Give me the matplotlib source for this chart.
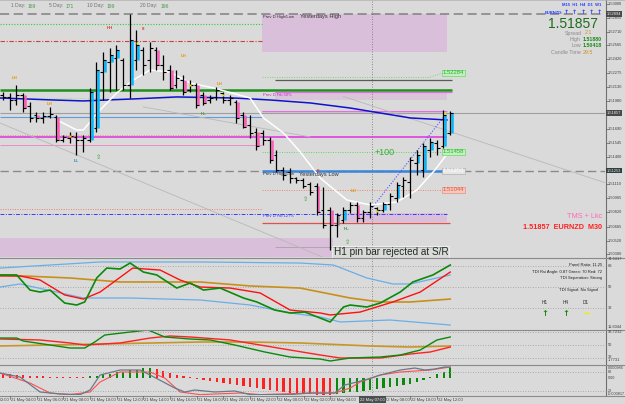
import matplotlib
matplotlib.use("Agg")
import matplotlib.pyplot as plt
from matplotlib.lines import Line2D
from matplotlib.patches import Rectangle
from matplotlib.transforms import blended_transform_factory as blend

plt.rcParams['font.family'] = ['Liberation Sans', 'DejaVu Sans']

# ---------------- data ----------------
bar_idx = list(range(-1, 67))   # M30 bars, 0 = 21 May 04:00
opens = [1.52046, 1.52025, 1.51993, 1.52046, 1.51930, 1.51836, 1.51805, 1.51826, 1.51815, 1.51574,
         1.51595, 1.51606, 1.51574, 1.51574, 1.51700, 1.52286, 1.52391, 1.52433, 1.52412, 1.52150,
         1.52412, 1.52517, 1.52412, 1.52517, 1.52360, 1.52307, 1.52150, 1.52203, 1.52098, 1.52150,
         1.52046, 1.51993, 1.52025, 1.52066, 1.51993, 1.51972, 1.51836, 1.51731, 1.51658, 1.51648,
         1.51574, 1.51417, 1.51260, 1.51239, 1.51176, 1.51156, 1.51114, 1.51093, 1.50841, 1.50841,
         1.50684, 1.50737, 1.50841, 1.50894, 1.50758, 1.50820, 1.50862, 1.50841, 1.50904, 1.50967,
         1.51093, 1.51135, 1.51334, 1.51260, 1.51470, 1.51543, 1.51512, 1.51648]
highs = [1.52077, 1.52066, 1.52150, 1.52066, 1.51972, 1.51867, 1.51867, 1.51920, 1.51836, 1.51627,
         1.51658, 1.51658, 1.51627, 1.52119, 1.52391, 1.52496, 1.52538, 1.52569, 1.52433, 1.52894,
         1.52726, 1.52548, 1.52600, 1.52548, 1.52464, 1.52360, 1.52307, 1.52255, 1.52203, 1.52171,
         1.52077, 1.52046, 1.52129, 1.52077, 1.52046, 1.51993, 1.51867, 1.51836, 1.51700, 1.51679,
         1.51606, 1.51470, 1.51292, 1.51281, 1.51187, 1.51176, 1.51135, 1.51124, 1.51082, 1.50873,
         1.50810, 1.50873, 1.50925, 1.50925, 1.50841, 1.50925, 1.50873, 1.50925, 1.51019, 1.51135,
         1.51187, 1.51396, 1.51470, 1.51543, 1.51595, 1.51574, 1.51888, 1.51880]
lows = [1.51993, 1.51888, 1.51941, 1.51867, 1.51763, 1.51763, 1.51752, 1.51805, 1.51553, 1.51553,
        1.51543, 1.51417, 1.51449, 1.51553, 1.51658, 1.51993, 1.52077, 1.52098, 1.52098, 1.52014,
        1.52307, 1.52255, 1.52286, 1.52307, 1.52203, 1.52098, 1.52119, 1.52046, 1.52077, 1.51909,
        1.51941, 1.51962, 1.51993, 1.51962, 1.51941, 1.51752, 1.51700, 1.51595, 1.51470, 1.51522,
        1.51334, 1.51239, 1.51156, 1.51124, 1.51124, 1.51072, 1.50999, 1.50789, 1.50653, 1.50418,
        1.50559, 1.50705, 1.50810, 1.50716, 1.50716, 1.50758, 1.50789, 1.50820, 1.50841, 1.50925,
        1.50978, 1.50967, 1.51208, 1.51187, 1.51396, 1.51417, 1.51491, 1.51627]
closes = [1.52025, 1.51993, 1.52046, 1.51909, 1.51805, 1.51805, 1.51826, 1.51847, 1.51574, 1.51606,
          1.51616, 1.51574, 1.51595, 1.52077, 1.52307, 1.52412, 1.52464, 1.52517, 1.52150, 1.52621,
          1.52569, 1.52360, 1.52538, 1.52360, 1.52286, 1.52119, 1.52224, 1.52077, 1.52150, 1.51941,
          1.51962, 1.52014, 1.52098, 1.51993, 1.52014, 1.51805, 1.51710, 1.51648, 1.51512, 1.51574,
          1.51365, 1.51260, 1.51208, 1.51176, 1.51156, 1.51093, 1.51030, 1.50820, 1.50684, 1.50684,
          1.50789, 1.50841, 1.50894, 1.50758, 1.50820, 1.50883, 1.50841, 1.50904, 1.50988, 1.51103,
          1.51156, 1.51365, 1.51417, 1.51512, 1.51553, 1.51491, 1.51836, 1.51857]
body_kind = "kkkpkpkkpk" "kkkccccckc" "ckkpkpkpkp" "pkkkkppkpk" "pkkkkkkpkp" "gckpkkkckc" "kkccckcc"

white_k = [7, 10, 11, 13.5, 16, 18.5, 21, 24, 27, 30.5, 36, 38, 41, 43.5, 46.5, 50.5, 54, 58, 61, 63.7, 66]
white_p = [1.51784, 1.51679, 1.51679, 1.51888, 1.52066, 1.52203, 1.52307, 1.52286, 1.52171, 1.52119, 1.52014,
           1.51805, 1.51648, 1.51449, 1.51176, 1.50946, 1.50894, 1.50925, 1.51051, 1.51260, 1.51470]
blue_k = [-1.5, 6.5, 11, 18.5, 25, 33.5, 39, 45, 51, 55.5, 60, 65.5]
blue_p = [1.52014, 1.51993, 1.51983, 1.52004, 1.52025, 1.52014, 1.51993, 1.51962, 1.51909, 1.51857, 1.51805, 1.51784]

bid = 1.51857
yest_high = 1.52894
yest_low_box = 1.51253
price_ticks = [1.53000, 1.52855, 1.52710, 1.52565, 1.52420, 1.52275, 1.52130, 1.51980, 1.51690,
               1.51545, 1.51400, 1.51110, 1.50965, 1.50820, 1.50665, 1.50520, 1.50380]

tdi_green_k = [-1.5, 1, 3, 4.5, 6, 8.2, 10, 11.2, 13, 14.5, 16.5, 18, 20, 22, 25, 27, 29, 31.5, 35, 37,
               39.7, 42, 44.2, 48, 50, 51, 53.5, 55.5, 58.5, 60.4, 63.4, 66]
tdi_green_v = [60.3, 60.3, 47.4, 45.7, 47.4, 36.3, 34.6, 37.2, 57.7, 66.2, 65.4, 70.5, 62.8, 60.3, 49.1, 53.4,
               47.4, 49.1, 40.6, 37.2, 30.3, 27.8, 28.6, 20.1, 32.9, 34.6, 32.9, 36.3, 45.7, 54.3, 60.3, 68.8]
tdi_red_k = [-1.5, 1.5, 4.5, 8.2, 11, 13.5, 18.4, 22.5, 25.5, 28.5, 33, 37.5, 42, 46.5, 48, 52.5, 57.4, 61.5, 66]
tdi_red_v = [59.4, 59.4, 56.0, 43.2, 39.7, 45.7, 66.2, 64.5, 56.0, 50.0, 49.1, 44.9, 30.3, 27.8, 26.1, 28.6,
             37.2, 45.7, 62.8]
tdi_base_k = [-1.5, 9, 16.5, 28.5, 36, 43.5, 51, 55.5, 60, 66]
tdi_base_v = [60.3, 57.7, 54.3, 54.3, 50.9, 49.1, 40.6, 37.2, 37.2, 39.7]
tdi_up_k = [-1.5, 13.5, 28.5, 43.5, 48.5, 53.5, 57.4, 60, 66]
tdi_up_v = [66.2, 71.4, 71.4, 70.5, 68.8, 57.7, 52.6, 52.6, 60.3]
tdi_dn_k = [-1.5, 1.5, 11, 18, 28.5, 36, 42, 46.5, 49.5, 57, 66]
tdi_dn_v = [50.0, 52.6, 40.6, 40.6, 38.9, 34.6, 27.8, 24.4, 20.1, 21.8, 17.5]

p2_green_k = [-1.5, 1, 2, 6, 9, 11.2, 12.7, 14.2, 18, 20.7, 23.2, 27, 30, 33.7, 38.2, 42, 46.5, 48, 51, 55.5,
              58.5, 61.5, 64, 66]
p2_green_v = [59.3, 59.3, 55.3, 50.0, 46.0, 46.0, 54.0, 63.3, 67.3, 70.0, 60.7, 58.0, 56.7, 50.0, 40.7, 34.0,
              31.3, 28.7, 32.7, 34.0, 36.7, 43.3, 56.7, 60.7]
p2_red_k = [-1.5, 4.5, 9, 11.2, 16.5, 21, 24, 27, 33, 37.5, 42, 46.5, 49.5, 55.5, 60, 63, 66]
p2_red_v = [58.0, 56.7, 52.7, 50.0, 52.7, 59.3, 62.0, 60.7, 56.7, 50.0, 43.3, 36.7, 32.7, 32.7, 38.0, 40.7, 47.3]
p2_orange_k = [-1.5, 13.5, 28.5, 36, 43.5, 54, 60, 66]
p2_orange_v = [48.7, 51.3, 54.0, 54.0, 52.7, 48.7, 47.3, 48.7]

st_main_k = [-1.5, 1.5, 4.5, 7.5, 10.5, 12, 13.5, 16.5, 19.5, 21, 24.7, 26.2, 27.7, 30.7, 33.7, 36, 42, 45,
             48.7, 50.2, 53.2, 55.5, 58.5, 60.7, 62.2, 63.7, 65.2, 66]
st_main_v = [76.8, 64.2, 16.8, 10.5, 8.5, 23.1, 70.5, 86.3, 86.3, 70.5, 29.4, 16.8, 23.1, 16.8, 20.0, 8.5, 8.5,
             13.6, 13.6, 38.9, 54.7, 70.5, 86.3, 92.6, 86.3, 89.5, 96.0, 95.0]
st_sig_k = [-1.5, 3, 6, 9, 12, 13.5, 16.5, 21, 23.2, 25.5, 28.5, 34.5, 37.5, 45, 48.7, 51, 52.5, 55.5, 58.5, 63, 66]
st_sig_v = [76.8, 45.2, 13.6, 8.5, 16.8, 48.4, 80.0, 80.0, 61.0, 16.8, 8.5, 13.6, 8.5, 13.6, 13.6, 29.4, 48.4,
            70.5, 80.0, 86.3, 96.0]
hist_v = [20, 20, 15, 15, 10, 8, 8, 5, 5, 3, 3, 3, 3, 8, 12, 18, 22, 28, 32, 38,
          42, 48, 50, 45, 35, 25, 15, 8, 3, -5, -10, -15, -20, -25, -30, -35, -40, -45, -50, -55,
          -60, -65, -70, -75, -78, -80, -82, -84, -84, -84, -80, -76, -72, -68, -64, -60, -55, -50, -45, -40,
          -34, -28, -20, -10, 5, 20, 32, 48]
hist_kind = "r" * 13 + "g" * 10 + "r" * 27 + "g" * 18

time_k = [-4, 0, 4, 8, 12, 16, 20, 24, 28, 32, 36, 40, 44, 48, 56, 60, 64]
time_lbl = ["21 May 02:00", "21 May 04:00", "21 May 06:00", "21 May 08:00", "21 May 10:00", "21 May 12:00",
            "21 May 14:00", "21 May 16:00", "21 May 18:00", "21 May 20:00", "21 May 22:00", "22 May 00:00",
            "22 May 02:00", "22 May 04:00", "22 May 08:00", "22 May 10:00", "22 May 12:00"]
cross_k = 54.3
cross_lbl = "22 May 07:00"

# ---------------- figure ----------------
W, H = 625, 404
XR = 605          # right edge of the plotting area (px)
BG = '#dadada'
fig = plt.figure(figsize=(W / 100, H / 100), dpi=100)
fig.patch.set_facecolor(BG)


def frect(y0, y1):
    return [0, 1 - y1 / H, XR / W, (y1 - y0) / H]


ax = fig.add_axes(frect(0, 257))
ax1 = fig.add_axes(frect(258, 329))
ax2 = fig.add_axes(frect(330, 364))
ax3 = fig.add_axes(frect(366, 395))
ax3h = ax3.twinx()
XL = (-1.5, 89.2)
for a in (ax, ax1, ax2, ax3, ax3h):
    a.set_xlim(*XL)
    a.axis('off')
ax.set_ylim(1.50349, 1.53040)
ax1.set_ylim(14.1, 74.8)
ax2.set_ylim(24.7, 70.0)
ax3.set_ylim(7.3, 99.0)
ax3h.set_ylim(-85, 60)


def fline(x0, x1, y0, y1, **kw):
    fig.add_artist(Line2D([x0 / W, x1 / W], [1 - y0 / H, 1 - y1 / H], transform=fig.transFigure, **kw))


# ---- zones ----
ZC = '#d9bfd9'
zones = [((37.8, 65.5), (1.52496, 1.52894), ZC),
         ((39.7, 65.5), (1.51993, 1.52077), '#d8c6d8'),
         ((37.8, 65.5), (1.51847, 1.51878), '#d8c0d8'),
         ((50.2, 65.5), (1.50716, 1.50810), ZC),
         ((-1.5, 48.4), (1.50349, 1.50548), ZC)]
for (k0, k1), (p0, p1), c in zones:
    ax.add_patch(Rectangle((k0, p0), k1 - k0, p1 - p0, fc=c, ec='none', zorder=0))

# ---- horizontal levels ----
L, M, R = -1.5, 37.8, 65.5
ax.hlines(yest_high, *XL, colors='#808080', lw=1.1, linestyles=(0, (6, 3)), zorder=1)
ax.hlines(1.52789, L, M, colors='#33cc33', lw=0.8, linestyles=(0, (1, 1.5)), zorder=1)
ax.hlines(1.52611, L, M, colors='#d04040', lw=0.8, linestyles=(0, (4, 1.5, 1, 1.5)), zorder=1)
ax.hlines(1.52234, M, 63, colors='#66dd66', lw=0.7, linestyles=(0, (1, 1.5)), zorder=1)
ax.plot([63, 64.9], [1.52234, 1.52276], color='#66dd66', lw=0.7, ls=(0, (1, 1.5)), zorder=1)
ax.hlines(1.52203, 39.7, 66.3, colors='#5a5a5a', lw=0.9, zorder=1)
ax.hlines(1.52098, L, 66.3, colors='#1f8f1f', lw=1.8, zorder=1)
ax.hlines(1.52077, 39.7, 66.3, colors='#e070e0', lw=0.9, zorder=1)
ax.hlines(1.52014, L, M, colors='#99dd99', lw=0.7, linestyles=(0, (1, 1.5)), zorder=1)
ax.hlines(bid, *XL, colors='#a0a0a0', lw=0.8, zorder=1)
ax.hlines(1.51878, M, R, colors='#e070e0', lw=0.8, zorder=1)
ax.hlines(1.51815, L, M, colors='#5aa0e0', lw=0.8, zorder=1)
ax.hlines(1.51627, L, M, colors='#e0a070', lw=0.7, linestyles=(0, (1, 1.5)), zorder=1)
ax.hlines(1.51606, L, R, colors='#e030e0', lw=1.1, zorder=1)
ax.hlines(1.51522, L, M, colors='#f080c0', lw=0.6, zorder=1)
ax.hlines(1.51449, M, 64.9, colors='#55dd55', lw=0.7, linestyles=(0, (1, 1.5)), zorder=1)
ax.hlines(yest_low_box, *XL, colors='#8a8a8a', lw=1.0, linestyles=(0, (6, 3)), zorder=1)
ax.hlines(yest_low_box, M, R, colors='#3a86d8', lw=1.8, zorder=1)
ax.hlines(1.51051, M, 64.9, colors='#f08070', lw=0.7, linestyles=(0, (1, 1.5)), zorder=1)
ax.hlines(1.50852, L, M, colors='#f08070', lw=0.7, linestyles=(0, (1, 1.5)), zorder=1)
ax.hlines(1.50800, L, R, colors='#3a3aff', lw=0.7, linestyles=(0, (4, 1.5, 1, 1.5)), zorder=1)
ax.hlines(1.50705, M, 66, colors='#e05050', lw=0.9, zorder=1)
ax.hlines(1.50454, 39.7, R, colors='#a8a0a8', lw=0.6, zorder=1)

# ---- diagonal lines ----
GD = '#b8b8b8'
ax.plot([-1.5, 47.2], [1.51752, 1.50339], color=GD, lw=0.6, zorder=1)
ax.plot([20, 45], [1.51920, 1.51606], color=GD, lw=0.6, zorder=1)
ax.plot([50, 89.2], [1.52030, 1.51127], color=GD, lw=0.6, zorder=1)
ax.plot([54, 65.5], [1.50841, 1.51857], color='#5050ff', lw=0.8, ls=(0, (1, 1.5)), zorder=2)

# ---- moving averages ----
ax.plot(blue_k, blue_p, color='#1010d0', lw=1.1, zorder=2)
ax.plot(white_k, white_p, color='white', lw=1.1, zorder=2)

# ---- bars ----
bcol = {'c': '#00b8ff', 'p': '#ff5cb8', 'g': '#8c8c8c'}
for k, o, h, l, c, kd in zip(bar_idx, opens, highs, lows, closes, body_kind):
    if kd in bcol:
        ax.plot([k + 0.22, k + 0.22], [o, c], color=bcol[kd], lw=1.8, solid_capstyle='butt', zorder=3)
    ax.vlines(k - 0.05, l, h, colors='black', lw=0.9, zorder=4)
    ax.hlines(o, k - 0.45, k - 0.05, colors='black', lw=0.8, zorder=4)
    ax.hlines(c, k - 0.05, k + 0.4, colors='black', lw=0.8, zorder=4)

# small yellow marks
for k, p in [(9, 1.51616), (19, 1.52590), (27, 1.52150), (32, 1.52050), (55, 1.50830), (65.2, 1.51860)]:
    ax.plot(k, p, 's', ms=1.6, color='#f0e000', mec='none', zorder=5)


# ---- chart labels ----
def mk(k, p, s, c, fs=3.2):
    ax.text(k, p, s, color=c, fontsize=fs, ha='center', va='center', fontweight='bold', zorder=6,
            family=['Liberation Sans', 'DejaVu Sans'])


OR, GR, RD = '#e8960c', '#3c9a3c', '#e83030'
mk(0.7, 1.52224, 'LH', OR)
mk(6, 1.51951, 'LH', OR)
mk(10, 1.51355, 'LL', '#2090b0')
mk(13.2, 1.51396, '⇧', '#50b050', 4.5)
mk(15, 1.52747, 'HH', RD)
mk(20, 1.52737, '8', RD)
mk(26, 1.52454, 'LH', OR)
mk(29, 1.51847, 'HL', GR)
mk(31.5, 1.52161, 'LH', OR)
mk(44.2, 1.50946, '⇧', '#50b050', 4.5)
mk(46.2, 1.51250, '8', RD)
mk(51.5, 1.51040, 'LH', OR)
mk(50.5, 1.50506, '⇧', '#50b050', 4.5)
mk(50.5, 1.50642, 'HL', GR)

ax.text(37.9, 1.52863, 'Prev D High/Low', fontsize=3.0, color='#303030', va='center', zorder=6)
ax.text(43.5, 1.52863, 'Yesterdays High', fontsize=4.1, color='#303030', va='center', zorder=6)
ax.text(37.9, 1.52046, 'Prev D Fib 50%', fontsize=3.0, color='#d020d0', va='center', zorder=6)
ax.text(37.9, 1.51218, 'Prev D High/Low', fontsize=3.0, color='#303030', va='center', zorder=6)
ax.text(43.3, 1.51218, 'Yesterdays Low', fontsize=4.1, color='#303030', va='center', zorder=6)
ax.text(37.9, 1.50779, 'Prev D Fib 127%', fontsize=3.0, color='#3030ff', va='center', zorder=6)
ax.text(54.7, 1.51438, '+100', fontsize=6.5, color='#30b030', va='center', zorder=6)
ax.text(48.5, 1.50400, 'H1 pin bar rejected at S/R', fontsize=7.2, color='#1e2e1e', va='center', zorder=6,
        bbox=dict(boxstyle='square,pad=0.12', fc='none', ec='#eef6ee', lw=0.6))

for p, s, fc, tc, ec in [(1.52276, '1.52284', '#bff0bf', '#25b025', '#6cd66c'),
                         (1.51449, '1.51458', '#bff0bf', '#25b025', '#6cd66c'),
                         (1.51250, '1.51253', '#e6e6e6', '#ffffff', '#b0b0b0'),
                         (1.51051, '1.51044', '#f4c8bc', '#e05a40', '#e89080')]:
    ax.text(64.9, p, s, fontsize=4.2, color=tc, va='center', ha='left', zorder=6,
            bbox=dict(boxstyle='square,pad=0.15', fc=fc, ec=ec, lw=0.5))

# ---- indicator panels ----
DOT = dict(color='#9a9a9a', lw=0.6, ls=(0, (1, 2)))
for v in (68, 50, 32):
    ax1.axhline(v, **DOT)
ax1.plot(tdi_up_k, tdi_up_v, color='#6aaee8', lw=0.9)
ax1.plot(tdi_dn_k, tdi_dn_v, color='#6aaee8', lw=0.9)
ax1.plot(tdi_base_k, tdi_base_v, color='#c8901a', lw=1.2)
ax1.plot(tdi_red_k, tdi_red_v, color='#ff1010', lw=1.0)
ax1.plot(tdi_green_k, tdi_green_v, color='#0a8a0a', lw=1.2)

for v in (67.3, 50, 32.7):
    ax2.axhline(v, **DOT)
ax2.plot(p2_orange_k, p2_orange_v, color='#c89628', lw=1.2)
ax2.plot(p2_red_k, p2_red_v, color='#ff2020', lw=1.0)
ax2.plot(p2_green_k, p2_green_v, color='#0a8a0a', lw=1.0)

for v in (80, 20):
    ax3.axhline(v, **DOT)
hc = {'r': '#ff2020', 'g': '#0a8a0a'}
ax3h.bar(bar_idx, hist_v, width=0.32, color=[hc[c] for c in hist_kind], zorder=1)
ax3.plot(st_sig_k, st_sig_v, color='#ff5050', lw=0.8, zorder=3)
ax3.plot(st_main_k, st_main_v, color='#6a7a8a', lw=0.9, zorder=3)
ax3.set_zorder(ax3h.get_zorder() + 1)

# crosshair vertical line
for a in (ax, ax1, ax2, ax3):
    a.axvline(cross_k, color='#707070', lw=0.6, ls=(0, (1, 2)), zorder=1)

# ---- frame lines ----
fline(XR + 0.5, XR + 0.5, 0, 395.5, color='#707070', lw=0.8)
for y in (257.5, 329.5, 364.8, 395.5):
    fline(0, 625, y, y, color='#8a8a8a', lw=0.8)
fline(0, 625, 0.3, 0.3, color='#b0b0b0', lw=0.5)

# ---- right axis labels ----
LX = 608 / W
tr = blend(fig.transFigure, ax.transData)
for p in price_ticks:
    fig.text(LX, p, f"{p:.5f}", transform=tr, fontsize=2.9, color='#404040', va='center')
    fig.add_artist(Line2D([(XR + 0.5) / W, (XR + 2.5) / W], [p, p], transform=tr, color='#606060', lw=0.5))
for p, s, fc in [(bid, '1.51857', '#4a4a4a'), (yest_high, '1.52894', '#4a4a4a'),
                 (yest_low_box, '1.51253', '#2f4040')]:
    fig.text(607 / W, p, s, transform=tr, fontsize=2.9, color='#e8e8e8', va='center',
             bbox=dict(boxstyle='square,pad=0.2', fc=fc, ec='none'))

tr1 = blend(fig.transFigure, ax1.transData)
for v, s in [(73.8, '74.5317'), (68, '68'), (50, '50'), (32, '32'), (16.0, '11.6044')]:
    fig.text(LX, v, s, transform=tr1, fontsize=2.9, color='#404040', va='center')
tr2 = blend(fig.transFigure, ax2.transData)
for v, s in [(67.3, '93.7232'), (50, '50'), (33.8, '32'), (29.8, '1.7731')]:
    fig.text(LX, v, s, transform=tr2, fontsize=2.9, color='#404040', va='center')
tr3 = blend(fig.transFigure, ax3h.transData)
for v, s in [(52, '0.000986'), (0, '0.00'), (-80, '-0.000817')]:
    fig.text(LX, v, s, transform=tr3, fontsize=2.7, color='#404040', va='center')
tr3s = blend(fig.transFigure, ax3.transData)
for v, s in [(80, '80'), (20, '20')]:
    fig.text(LX, v, s, transform=tr3s, fontsize=2.7, color='#404040', va='center')

# ---- time axis ----
trt = blend(ax3.transData, fig.transFigure)
for k, s in zip(time_k, time_lbl):
    fig.text(k + 0.15, 1 - 399.5 / H, s, transform=trt, fontsize=3.0, color='#404040', va='center', ha='left')
    fig.add_artist(Line2D([k, k], [1 - 395.5 / H, 1 - 398.5 / H], transform=trt, color='#606060', lw=0.5))
fig.text(cross_k, 1 - 399.5 / H, cross_lbl, transform=trt, fontsize=3.0, color='#f0f0f0', va='center',
         ha='center', bbox=dict(boxstyle='square,pad=0.25', fc='#4a5050', ec='none'))


# ---- info texts ----
def ft(x, y, s, **kw):
    fig.text(x / W, 1 - y / H, s, va='center', **kw)


for x0, lab, x1, val in [(11, '1 Day:', 28, '169'), (49, '5 Day:', 66, '171'),
                         (87, '10 Day:', 107, '199'), (140, '20 Day:', 161, '196')]:
    ft(x0, 6, lab, fontsize=3.6, color='#707070')
    ft(x1, 6, val, fontsize=3.6, color='#4a9a4a')

ft(562, 5, 'M15  H1  H4  D1  W1', fontsize=3.0, color='#2a40ff', fontweight='bold')
ft(545, 12.5, 'EURNZD:', fontsize=3.0, color='#2a40ff', fontweight='bold')
for x in (566, 574.5, 583, 591, 599):
    ft(x, 12.5, '↑', fontsize=4.4, color='#2a40ff', fontweight='bold', ha='center',
       family=['DejaVu Sans'])
ft(598, 24, '1.51857', fontsize=10, color='#1e6b1e', ha='right')
ft(582, 33, 'Spread', fontsize=3.8, color='#8a8a8a', ha='right')
ft(585, 33, '2.1', fontsize=3.8, color='#d09020')
ft(581, 39.3, 'High', fontsize=3.8, color='#8a8a8a', ha='right')
ft(583, 39.3, '1.51880', fontsize=3.8, color='#1a8a1a', fontweight='bold')
ft(581, 45.8, 'Low', fontsize=3.8, color='#8a8a8a', ha='right')
ft(583, 45.8, '1.50418', fontsize=3.8, color='#1a8a1a', fontweight='bold')
ft(581, 52.3, 'Candle Time', fontsize=3.8, color='#8a8a8a', ha='right')
ft(583, 52.3, '29:5', fontsize=3.8, color='#d09020')

ft(602, 216, 'TMS + Lkc', fontsize=5.3, color='#ff6ab8', ha='right')
ft(602, 227.5, '1.51857  EURNZD  M30', fontsize=5.2, color='#ff2020', ha='right', fontweight='bold')

ft(602, 265, 'Panel Ratio: 11.25', fontsize=3.0, color='#202020', ha='right')
ft(602, 271.5, 'TDI Rsi Angle: 0.87 Green: 70 Red: 72', fontsize=3.0, color='#202020', ha='right')
ft(602, 278, 'TDI Separation: Strong', fontsize=3.0, color='#202020', ha='right')
ft(598, 290, 'TDI Signal: No Signal', fontsize=3.0, color='#202020', ha='right')
for x, s in [(545, 'H1'), (565.5, 'H4'), (586, 'D1')]:
    ft(x, 302.5, s, fontsize=3.4, color='#303030', ha='center')
ft(545, 313, '↑', fontsize=6, color='#1a8a1a', ha='center', fontweight='bold', family=['DejaVu Sans'])
ft(565.5, 313, '↑', fontsize=6, color='#1a8a1a', ha='center', fontweight='bold', family=['DejaVu Sans'])
ft(586, 313, '→', fontsize=6, color='#f0f000', ha='center', fontweight='bold', family=['DejaVu Sans'])

fig.savefig('out.png', dpi=100, facecolor=BG)
